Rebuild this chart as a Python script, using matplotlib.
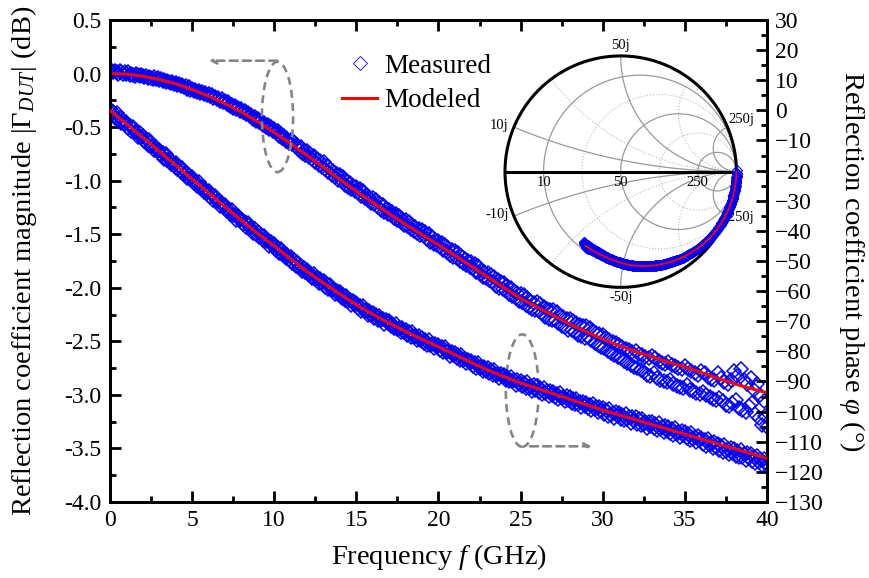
import matplotlib.pyplot as plt
import numpy as np
from matplotlib.patches import Ellipse
from matplotlib.lines import Line2D

plt.rcParams['font.family'] = ['Liberation Serif', 'DejaVu Serif']
plt.rcParams['mathtext.fontset'] = 'custom'
plt.rcParams['mathtext.rm'] = 'Liberation Serif'
plt.rcParams['mathtext.it'] = 'Liberation Serif:italic'
plt.rcParams['mathtext.bf'] = 'Liberation Serif:bold'

# modeled curves, 1 GHz steps
freq_model = np.linspace(0, 40, 41)
mag_model = [0.000, -0.005, -0.025, -0.055, -0.095, -0.150, -0.210, -0.280, -0.360, -0.450,
             -0.550, -0.655, -0.765, -0.875, -0.990, -1.100, -1.205, -1.310, -1.410, -1.505,
             -1.600, -1.700, -1.800, -1.900, -2.000, -2.100, -2.180, -2.260, -2.340, -2.410,
             -2.480, -2.540, -2.595, -2.645, -2.695, -2.740, -2.790, -2.845, -2.895, -2.940,
             -2.980]
phase_model = [0.0, -4.5, -9.0, -13.6, -18.2, -22.8, -27.4, -32.0, -36.5, -40.9,
               -45.0, -49.3, -53.5, -57.3, -61.0, -64.5, -67.7, -70.6, -73.4, -76.0,
               -78.5, -81.1, -83.7, -86.2, -88.4, -90.5, -92.3, -94.1, -95.9, -97.7,
               -99.5, -101.1, -102.7, -104.3, -105.9, -107.5, -109.1, -110.7, -112.3, -113.9,
               -115.5]

# measured sweep, 0.1 GHz steps (one row per GHz)
freq_meas = np.linspace(0, 40, 401)
mag_meas = [
    0.01, 0.02, 0.01, 0.02, 0.01, 0.00, 0.02, 0.01, 0.00, 0.01,
    0.00, 0.01, -0.01, 0.00, -0.01, -0.02, 0.00, -0.01, -0.02, -0.01,
    -0.02, -0.03, -0.02, -0.04, -0.03, -0.04, -0.05, -0.03, -0.05, -0.04,
    -0.06, -0.05, -0.07, -0.06, -0.08, -0.07, -0.08, -0.09, -0.08, -0.10,
    -0.09, -0.11, -0.10, -0.12, -0.11, -0.13, -0.12, -0.14, -0.13, -0.15,
    -0.14, -0.16, -0.15, -0.17, -0.16, -0.18, -0.17, -0.19, -0.18, -0.20,
    -0.19, -0.21, -0.20, -0.23, -0.22, -0.24, -0.23, -0.26, -0.24, -0.27,
    -0.26, -0.28, -0.27, -0.30, -0.29, -0.32, -0.30, -0.33, -0.32, -0.35,
    -0.33, -0.36, -0.35, -0.38, -0.37, -0.40, -0.39, -0.42, -0.41, -0.44,
    -0.42, -0.45, -0.44, -0.48, -0.46, -0.50, -0.48, -0.52, -0.50, -0.54,
    -0.52, -0.55, -0.54, -0.58, -0.56, -0.60, -0.58, -0.63, -0.61, -0.65,
    -0.62, -0.66, -0.64, -0.69, -0.67, -0.71, -0.69, -0.74, -0.72, -0.76,
    -0.72, -0.78, -0.75, -0.80, -0.77, -0.83, -0.80, -0.85, -0.82, -0.87,
    -0.83, -0.89, -0.86, -0.92, -0.89, -0.95, -0.91, -0.97, -0.94, -0.99,
    -0.95, -1.00, -0.97, -1.04, -1.00, -1.06, -1.02, -1.08, -1.05, -1.10,
    -1.06, -1.11, -1.08, -1.14, -1.10, -1.16, -1.13, -1.18, -1.15, -1.21,
    -1.16, -1.22, -1.18, -1.25, -1.21, -1.27, -1.23, -1.29, -1.26, -1.31,
    -1.27, -1.32, -1.29, -1.35, -1.31, -1.37, -1.33, -1.39, -1.36, -1.41,
    -1.37, -1.42, -1.39, -1.45, -1.41, -1.47, -1.43, -1.49, -1.45, -1.51,
    -1.46, -1.52, -1.48, -1.54, -1.50, -1.57, -1.53, -1.59, -1.55, -1.60,
    -1.56, -1.62, -1.58, -1.65, -1.60, -1.67, -1.63, -1.69, -1.65, -1.71,
    -1.66, -1.72, -1.68, -1.75, -1.70, -1.77, -1.73, -1.79, -1.75, -1.81,
    -1.76, -1.82, -1.78, -1.85, -1.80, -1.87, -1.83, -1.90, -1.85, -1.91,
    -1.86, -1.93, -1.88, -1.95, -1.90, -1.98, -1.93, -2.00, -1.95, -2.01,
    -1.96, -2.03, -1.98, -2.06, -2.00, -2.08, -2.03, -2.10, -2.05, -2.12,
    -2.06, -2.13, -2.07, -2.16, -2.10, -2.18, -2.12, -2.20, -2.14, -2.21,
    -2.13, -2.22, -2.15, -2.24, -2.18, -2.27, -2.20, -2.29, -2.21, -2.30,
    -2.21, -2.30, -2.23, -2.33, -2.26, -2.36, -2.27, -2.37, -2.29, -2.39,
    -2.29, -2.39, -2.31, -2.41, -2.33, -2.44, -2.35, -2.45, -2.36, -2.47,
    -2.36, -2.46, -2.38, -2.49, -2.40, -2.52, -2.42, -2.53, -2.43, -2.55,
    -2.44, -2.56, -2.47, -2.59, -2.49, -2.61, -2.51, -2.63, -2.52, -2.65,
    -2.53, -2.66, -2.55, -2.68, -2.57, -2.70, -2.58, -2.72, -2.60, -2.74,
    -2.59, -2.75, -2.62, -2.77, -2.63, -2.79, -2.65, -2.81, -2.66, -2.82,
    -2.64, -2.80, -2.66, -2.84, -2.68, -2.86, -2.70, -2.87, -2.71, -2.88,
    -2.69, -2.86, -2.72, -2.90, -2.73, -2.92, -2.75, -2.93, -2.76, -2.94,
    -2.73, -2.91, -2.76, -2.95, -2.78, -2.96, -2.80, -2.98, -2.81, -2.99,
    -2.78, -2.97, -2.80, -3.00, -2.83, -3.02, -2.85, -3.04, -2.86, -3.05,
    -2.80, -3.03, -2.84, -3.06, -2.88, -3.09, -2.90, -3.10, -2.86, -3.08,
    -2.78, -3.05, -2.82, -3.12, -2.76, -3.14, -2.86, -3.16, -2.90, -3.10,
    -2.84, -3.08, -2.95, -3.18, -2.90, -3.22, -3.00, -3.28, -3.06, -3.20,
    -3.30]
phase_meas = [
    0.6, -1.3, -0.6, -2.4, -1.0, -2.8, -2.6, -4.3, -3.1, -4.5,
    -3.9, -5.8, -5.1, -6.9, -5.5, -7.3, -7.1, -8.8, -7.6, -9.0,
    -8.4, -10.3, -9.6, -11.4, -10.0, -11.8, -11.7, -13.3, -12.2, -13.5,
    -13.0, -14.9, -14.2, -16.0, -14.6, -16.4, -16.3, -17.9, -16.8, -18.1,
    -17.6, -19.5, -18.8, -20.6, -19.2, -21.0, -20.9, -22.5, -21.4, -22.7,
    -22.2, -24.1, -23.4, -25.2, -23.8, -25.6, -25.5, -27.1, -26.0, -27.3,
    -26.8, -28.7, -28.0, -29.8, -28.4, -30.2, -30.1, -31.7, -30.6, -31.9,
    -31.4, -33.3, -32.6, -34.4, -33.0, -34.8, -34.6, -36.3, -35.1, -36.5,
    -35.9, -37.7, -37.1, -38.8, -37.5, -39.2, -39.0, -40.7, -39.5, -40.9,
    -40.3, -42.1, -41.4, -43.1, -41.7, -43.5, -43.3, -44.9, -43.7, -45.0,
    -44.4, -46.2, -45.6, -47.3, -45.9, -47.7, -47.5, -49.1, -47.9, -49.3,
    -48.7, -50.5, -49.8, -51.6, -50.2, -51.9, -51.7, -53.3, -52.2, -53.5,
    -52.9, -54.7, -54.0, -55.6, -54.2, -55.9, -55.7, -57.3, -56.0, -57.3,
    -56.7, -58.5, -57.7, -59.4, -58.0, -59.7, -59.4, -61.0, -59.8, -61.0,
    -60.4, -62.2, -61.4, -63.1, -61.6, -63.3, -63.0, -64.6, -63.3, -64.6,
    -63.9, -65.6, -64.8, -66.5, -65.0, -66.6, -66.3, -67.8, -66.6, -67.8,
    -67.1, -68.8, -68.0, -69.6, -68.1, -69.7, -69.3, -70.8, -69.5, -70.7,
    -70.0, -71.7, -70.9, -72.4, -70.9, -72.5, -72.2, -73.7, -72.3, -73.5,
    -72.8, -74.5, -73.6, -75.2, -73.6, -75.2, -74.9, -76.3, -75.0, -76.1,
    -75.4, -77.1, -76.2, -77.8, -76.2, -77.8, -77.4, -78.9, -77.5, -78.7,
    -77.9, -79.6, -78.7, -80.3, -78.7, -80.3, -80.0, -81.4, -80.1, -81.2,
    -80.5, -82.2, -81.3, -82.9, -81.3, -82.9, -82.6, -84.0, -82.7, -83.8,
    -83.1, -84.8, -83.9, -85.5, -83.9, -85.5, -85.1, -86.6, -85.2, -86.4,
    -85.6, -87.2, -86.3, -87.9, -86.3, -87.8, -87.4, -88.8, -87.5, -88.6,
    -87.8, -89.4, -88.5, -90.0, -88.4, -90.0, -89.6, -91.0, -89.6, -90.7,
    -89.8, -91.6, -90.5, -92.2, -90.3, -92.0, -91.4, -93.0, -91.3, -92.7,
    -91.6, -93.4, -92.3, -94.0, -92.1, -93.8, -93.2, -94.8, -93.1, -94.5,
    -93.4, -95.2, -94.1, -95.8, -93.9, -95.6, -95.0, -96.6, -94.9, -96.3,
    -95.2, -97.0, -95.9, -97.6, -95.7, -97.4, -96.8, -98.4, -96.7, -98.1,
    -97.0, -98.8, -97.7, -99.4, -97.5, -99.2, -98.6, -100.2, -98.5, -99.9,
    -98.7, -100.8, -99.4, -101.3, -99.1, -101.0, -100.3, -102.1, -100.1, -101.5,
    -100.3, -102.4, -101.0, -102.9, -100.7, -102.6, -101.9, -103.7, -101.7, -103.1,
    -101.9, -104.0, -102.6, -104.5, -102.3, -104.2, -103.5, -105.3, -103.3, -104.7,
    -103.5, -105.6, -104.2, -106.1, -103.9, -105.8, -105.1, -106.9, -104.9, -106.3,
    -105.1, -107.2, -105.8, -107.7, -105.5, -107.4, -106.7, -108.5, -106.5, -107.9,
    -106.7, -108.8, -107.4, -109.3, -107.1, -109.0, -108.3, -110.1, -108.1, -109.5,
    -108.8, -110.9, -109.5, -111.4, -109.2, -111.1, -110.4, -112.2, -110.2, -111.6,
    -110.7, -112.9, -111.4, -113.4, -111.1, -113.1, -112.3, -114.2, -112.1, -113.6,
    -112.5, -114.7, -113.2, -115.2, -112.9, -114.9, -114.1, -116.0, -113.9, -115.4,
    -114.2, -116.5, -114.9, -117.0, -114.6, -116.7, -115.8, -117.8, -115.6, -117.2,
    -117.5]

mag_ticks = [-4.0, -3.5, -3.0, -2.5, -2.0, -1.5, -1.0, -0.5, 0.0, 0.5]
phase_ticks = list(range(-130, 31, 10))
freq_ticks = [0, 5, 10, 15, 20, 25, 30, 35, 40]

blue = '#0000ff'
red = '#ff0000'
gray = '#858585'
tfs = 17     # tick labels
lfs = 20.5   # axis labels

fig = plt.figure(figsize=(8.7, 5.78), dpi=100)
ax = fig.add_axes([0.1264, 0.1315, 0.7552, 0.8339])
ax2 = ax.twinx()

ax.plot(freq_meas, mag_meas, 'D', ms=7.5, mfc='none', mec=blue, mew=1.1, zorder=2)
ax.plot(freq_model, mag_model, '-', color=red, lw=2.2, zorder=3)
ax2.plot(freq_meas, phase_meas, 'D', ms=7.5, mfc='none', mec=blue, mew=1.1, zorder=2)
ax2.plot(freq_model, phase_model, '-', color=red, lw=2.2, zorder=3)

ax.set_xlim(0, 40)
ax.set_ylim(-4.0, 0.5)
ax2.set_ylim(-130, 30)
ax.set_xticks(freq_ticks)
ax.set_xticks(np.arange(0, 40.1, 2.5), minor=True)
ax.set_yticks(mag_ticks)
ax.set_yticklabels([f'{v:.1f}' for v in mag_ticks])
ax.set_yticks(np.arange(-4.0, 0.51, 0.25), minor=True)
ax2.set_yticks(phase_ticks)
ax2.set_yticks(np.arange(-130, 31, 5), minor=True)

for a in (ax, ax2):
    for s in a.spines.values():
        s.set_linewidth(2.0)
    a.tick_params(which='both', direction='in', width=2.0, labelsize=tfs, pad=6)
    a.tick_params(which='major', length=8)
    a.tick_params(which='minor', length=4)
ax.tick_params(which='both', top=True)

ax.set_xlabel('Frequency $f$ (GHz)', fontsize=lfs, labelpad=8)
ax.set_ylabel(r'Reflection coefficient magnitude $|\mathit{\Gamma}_{DUT}|$ (dB)', fontsize=lfs, labelpad=18)
ax2.set_ylabel(r'Reflection coefficient phase $\varphi$ (°)', fontsize=lfs, rotation=270,
               va='bottom', labelpad=9)

# annotation ellipses and arrows
dash = (0, (3, 2))
ax.add_patch(Ellipse((10.2, -0.405), 1.9, 1.03, fill=False, ec=gray, lw=1.9, ls=dash, zorder=4))
ax.annotate('', xy=(5.85, 0.12), xytext=(10.35, 0.12),
            arrowprops=dict(arrowstyle='->', color=gray, lw=1.9, ls=dash))
ax.add_patch(Ellipse((25.1, -2.96), 2.0, 1.05, fill=False, ec=gray, lw=1.9, ls=dash, zorder=4))
ax.annotate('', xy=(29.5, -3.48), xytext=(25.4, -3.48),
            arrowprops=dict(arrowstyle='->', color=gray, lw=1.9, ls=dash))

handles = [Line2D([], [], ls='none', marker='D', ms=7.5, mfc='none', mec=blue, mew=0.6),
           Line2D([], [], color=red, lw=2.2)]
ax2.legend(handles, ['Measured', 'Modeled'], loc='upper left', bbox_to_anchor=(0.353, 0.93),
           frameon=False, fontsize=19.5, handlelength=1.3, handletextpad=0.25,
           borderpad=0, borderaxespad=0, labelspacing=0.36, numpoints=1)

# Smith chart inset
sx = fig.add_axes([0.5472, 0.4528, 0.3325, 0.5005])
sx.set_xlim(-1.25, 1.25)
sx.set_ylim(-1.25, 1.25)
sx.set_aspect('equal')
sx.axis('off')

t = np.linspace(0, 2 * np.pi, 400)
rr = np.concatenate([[0], np.logspace(-3, 3, 400)])

def r_circle(r, **kw):
    c = r / (1 + r)
    rad = 1 / (1 + r)
    sx.plot(c + rad * np.cos(t), rad * np.sin(t), **kw)

def x_arc(x, **kw):
    z = rr + 1j * x
    g = (z - 1) / (z + 1)
    sx.plot(g.real, g.imag, **kw)

dot = dict(color='#bbbbbb', lw=0.8, ls=':')
sol = dict(color='#999999', lw=0.9)
for r in (0.5, 2):
    r_circle(r, **dot)
for x in (0.5, 2, -0.5, -2):
    x_arc(x, **dot)
for r in (0.2, 1, 5):
    r_circle(r, **sol)
for x in (0.2, 1, 5, -0.2, -1, -5):
    x_arc(x, **sol)
sx.plot(np.cos(t), np.sin(t), color='black', lw=2.2)
sx.plot([-1, 1], [0, 0], color='black', lw=2.2)

sfs = 10.5
sx.text(0, 1.03, '50j', fontsize=sfs, ha='center', va='bottom')
sx.text(-0.97, 0.40, '10j', fontsize=sfs, ha='right', va='center')
sx.text(0.93, 0.45, '250j', fontsize=sfs, ha='left', va='center')
sx.text(-0.97, -0.37, '-10j', fontsize=sfs, ha='right', va='center')
sx.text(0.89, -0.40, '-250j', fontsize=sfs, ha='left', va='center', zorder=1)
sx.text(0, -1.03, '-50j', fontsize=sfs, ha='center', va='top')
sx.text(-0.66, -0.04, '10', fontsize=sfs, ha='center', va='top')
sx.text(0.0, -0.04, '50', fontsize=sfs, ha='center', va='top')
sx.text(0.66, -0.04, '250', fontsize=sfs, ha='center', va='top')

g_meas = 10 ** (np.array(mag_meas) / 20) * np.exp(1j * np.deg2rad(phase_meas))
g_model = 10 ** (np.array(mag_model) / 20) * np.exp(1j * np.deg2rad(phase_model))
sx.plot(g_meas.real, g_meas.imag, 'D', ms=5.5, mfc='none', mec=blue, mew=0.8, zorder=3)
sx.plot(g_model.real, g_model.imag, '-', color=red, lw=1.3, zorder=4)

fig.savefig('out.png', dpi=100)
